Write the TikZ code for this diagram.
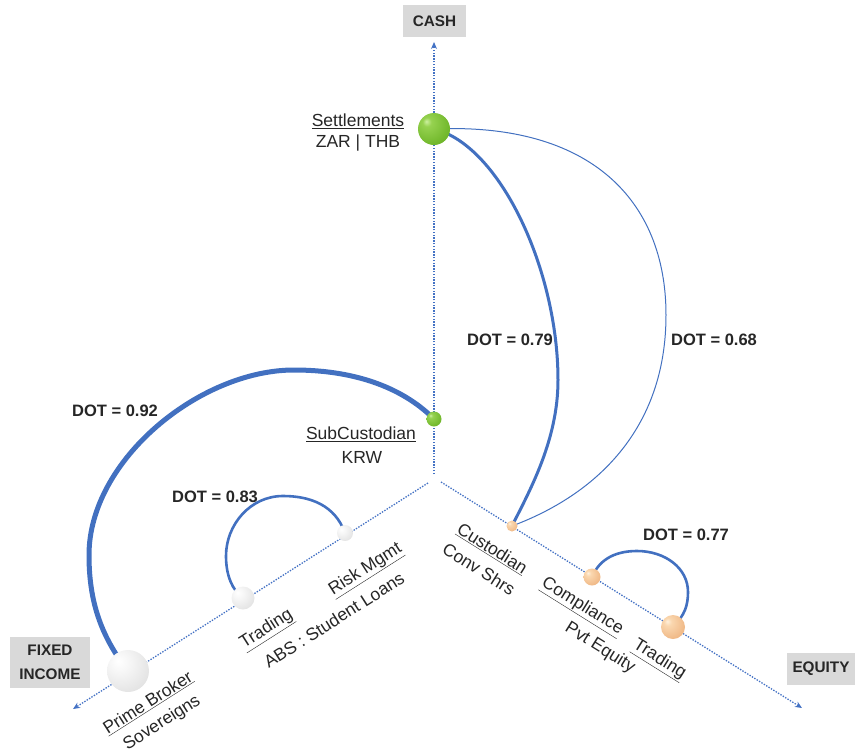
\documentclass[tikz,border=0pt]{standalone}
\usepackage{fontspec}
\setmainfont{Liberation Sans}
\usetikzlibrary{arrows.meta,backgrounds}
\definecolor{axisblue}{RGB}{68,114,196}
\definecolor{arcblue}{RGB}{66,112,192}
\definecolor{boxgrey}{RGB}{217,217,217}
\definecolor{textdark}{RGB}{38,38,38}
\definecolor{gsA}{RGB}{205,240,160}
\definecolor{gsB}{RGB}{150,210,80}
\definecolor{gsC}{RGB}{115,185,45}
\definecolor{gsD}{RGB}{85,150,30}
\definecolor{wsA}{RGB}{255,255,255}
\definecolor{wsB}{RGB}{246,246,246}
\definecolor{wsC}{RGB}{222,222,222}
\definecolor{wsD}{RGB}{150,150,150}
\definecolor{psA}{RGB}{255,240,220}
\definecolor{psB}{RGB}{250,215,175}
\definecolor{psC}{RGB}{240,185,135}
\definecolor{psD}{RGB}{200,140,90}
\pgfdeclareradialshading{greensph}{\pgfpoint{-12bp}{12bp}}{color(0bp)=(gsA); color(7bp)=(gsB); color(30bp)=(gsC); color(58bp)=(gsD); color(80bp)=(gsD)}
\pgfdeclareradialshading{whitesph}{\pgfpoint{-12bp}{12bp}}{color(0bp)=(wsA); color(12bp)=(wsB); color(40bp)=(wsC); color(62bp)=(wsD); color(80bp)=(wsD)}
\pgfdeclareradialshading{peachsph}{\pgfpoint{-12bp}{12bp}}{color(0bp)=(psA); color(8bp)=(psB); color(32bp)=(psC); color(60bp)=(psD); color(80bp)=(psD)}
\newcommand\mylblfont{\fontsize{17.5}{21}\selectfont}
\newcommand\mydotfont{\bfseries\fontsize{16.5}{20}\selectfont}
\newcommand\mycatfont{\bfseries\fontsize{15.3}{24}\selectfont}
\begin{document}
\begin{tikzpicture}[x=1pt,y=-1pt,
  axisline/.style={axisblue, line width=1.3pt, dash pattern=on 1.4pt off 1.4pt, -{Stealth[length=7pt,width=6pt]}},
  catbox/.style={fill=boxgrey, font=\mycatfont, text=textdark, inner sep=0pt, align=center},
  sphere/.style={circle, inner sep=0pt, minimum size=#1},
  lbl/.style={font=\mylblfont, text=textdark, inner sep=0pt},
  dotlabel/.style={font=\mydotfont, text=textdark, inner sep=0pt},
  arcline/.style={arcblue, line width=#1}
]
\useasboundingbox (0,0) rectangle (855,753);

% category boxes
\node[catbox, minimum width=63, minimum height=32] (cash) at (434.5,21) {CASH};
\node[catbox, minimum width=80, minimum height=51] (fi) at (50,662.5) {FIXED\\INCOME};
\node[catbox, minimum width=68, minimum height=32] (eq) at (821,669) {EQUITY};

% axes
\coordinate (o1) at (434,474); \coordinate (cashtip) at (434,42);
\coordinate (o2) at (428,483); \coordinate (fitip) at (73,709);
\coordinate (o3) at (441,482); \coordinate (eqtip) at (802,708);
\draw[axisline] (o1) -- (cashtip);
\draw[axisline] (o2) -- (fitip);
\draw[axisline] (o3) -- (eqtip);

% spheres
\node[sphere=32, shading=greensph] (settle) at (434,129) {};
\node[sphere=15, shading=greensph] (subc) at (434,419) {};
\node[sphere=42, shading=whitesph] (pb) at (128,671) {};
\node[sphere=23, shading=whitesph] (trfi) at (243,598) {};
\node[sphere=16, shading=whitesph] (risk) at (345,533) {};
\node[sphere=11, shading=peachsph] (cust) at (512,526) {};
\node[sphere=17, shading=peachsph] (comp) at (592,577) {};
\node[sphere=24, shading=peachsph] (treq) at (673,627) {};

% arcs
\begin{scope}[on background layer]
\draw[arcline=5pt] (subc.center) .. controls (400,385) and (350,370) .. (294,370)
   .. controls (200,370) and (89,460) .. (89,555)
   .. controls (89,600) and (100,635) .. (pb.center);
\draw[arcline=2.6pt] (risk.center) .. controls (335,505) and (310,496) .. (283,496)
   .. controls (250,496) and (226,525) .. (226,556)
   .. controls (226,575) and (232,590) .. (trfi.center);
\draw[arcline=3pt] (settle.center) .. controls (500,145) and (558,270) .. (558,380)
   .. controls (558,440) and (530,490) .. (cust.center);
\draw[arcline=1pt] (settle.center) .. controls (590,122) and (666,200) .. (666,315)
   .. controls (666,430) and (595,495) .. (cust.center);
\draw[arcline=2.6pt] (comp.center) .. controls (600,558) and (617,551) .. (637,551)
   .. controls (665,551) and (688,568) .. (688,592)
   .. controls (688,605) and (685,615) .. (treq.center);
\end{scope}

% DOT labels
\node[dotlabel] (d92) at (115,411) {DOT = 0.92};
\node[dotlabel] (d83) at (215,497) {DOT = 0.83};
\node[dotlabel] (d79) at (510,340) {DOT = 0.79};
\node[dotlabel] (d68) at (714,340) {DOT = 0.68};
\node[dotlabel] (d77) at (686,535) {DOT = 0.77};

% cash labels
\node[lbl] (settlename) at (358,121) {\underline{Settlements}};
\node[lbl] (settlecur) at (358,143) {ZAR | THB};
\node[lbl] (subcname) at (361,434) {\underline{SubCustodian}};
\node[lbl] (subccur) at (362,457) {KRW};

% fixed income labels
\node[lbl, rotate=32.5] (pbname) at (148,703) {\underline{Prime Broker}};
\node[lbl, rotate=32.5] (pbcur) at (162,723) {Sovereigns};
\node[lbl, rotate=32.5] (trfiname) at (267,630) {\underline{Trading}};
\node[lbl, rotate=32.5] (riskname) at (366,570) {\underline{Risk Mgmt}};
\node[lbl, rotate=32.5] (abs) at (334,620) {ABS : Student Loans};

% equity labels
\node[lbl, rotate=-32] (custname) at (492,549) {\underline{Custodian}};
\node[lbl, rotate=-32] (custcur) at (479,569) {Conv Shrs};
\node[lbl, rotate=-32] (compname) at (582,607) {\underline{Compliance}};
\node[lbl, rotate=-32] (pvt) at (600,648) {Pvt Equity};
\node[lbl, rotate=-32] (treqname) at (659,660) {\underline{Trading}};
\end{tikzpicture}
\end{document}
